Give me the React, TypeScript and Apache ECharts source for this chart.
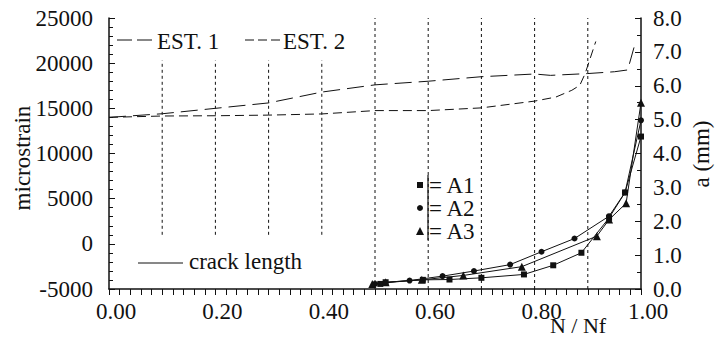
import React, { useEffect, useRef } from "react";
import * as echarts from "echarts";

const FONT = "Liberation Serif";

// Strain estimates (microstrain, left axis)
const est1X = [0, 0.1, 0.2, 0.3, 0.4, 0.5, 0.6, 0.7, 0.8, 0.83, 0.9, 0.95, 0.975, 0.99];
const est1Y = [14000, 14400, 15000, 15600, 16800, 17600, 18000, 18500, 18800, 18650, 18850, 19050, 19250, 22400];
const est2X = [0, 0.1, 0.2, 0.3, 0.4, 0.5, 0.6, 0.7, 0.8, 0.84, 0.87, 0.885, 0.895, 0.915];
const est2Y = [14000, 14150, 14180, 14250, 14380, 14750, 14750, 15050, 15800, 16250, 17000, 17550, 18850, 22400];

// Crack length (mm, right axis)
const a1X = [0.51, 0.52, 0.59, 0.64, 0.7, 0.78, 0.835, 0.888, 0.94, 0.97, 1.0];
const a1Y = [0.15, 0.2, 0.27, 0.28, 0.33, 0.43, 0.7, 1.07, 2.1, 2.85, 4.5];
const a2X = [0.5, 0.565, 0.627, 0.686, 0.754, 0.813, 0.875, 0.94, 0.97, 1.0];
const a2Y = [0.15, 0.25, 0.38, 0.53, 0.72, 1.1, 1.49, 2.15, 2.85, 4.98];
const a3X = [0.495, 0.52, 0.588, 0.666, 0.776, 0.917, 0.94, 0.972, 1.0];
const a3Y = [0.15, 0.2, 0.27, 0.4, 0.66, 1.56, 2.05, 2.53, 5.5];

// Vertical dotted reference lines
const gaugeX = [0.1, 0.2, 0.3, 0.4];
const gaugeRange = [1000, 20300];
const stageX = [0.5, 0.6, 0.7, 0.8, 0.9];
const stageRange = [-5000, 25000];

const xTicks = { min: 0, max: 1, interval: 0.2 };
const leftTicks = { min: -5000, max: 25000, interval: 5000 };
const rightTicks = { min: 0, max: 8, interval: 1 };

const zip = (xs: number[], ys: number[]) => xs.map((x, i) => [x, ys[i]]);

export default function App() {
  const ref = useRef<HTMLDivElement>(null);
  useEffect(() => {
    if (!ref.current) return;
    const chart = echarts.init(ref.current, null, { renderer: "svg" });
    const black = "#111";
    const txt = { fill: black, fontFamily: FONT, fontSize: 23 };
    const axisCommon = {
      axisLine: { show: true, onZero: false, lineStyle: { color: black, width: 1.5 } },
      splitLine: { show: false },
      axisLabel: { color: black, fontFamily: FONT, fontSize: 23 },
    };
    const dotted = (xs: number[], range: number[], name: string) =>
      xs.map((x, i) => ({
        name: name + i,
        type: "line",
        yAxisIndex: 0,
        data: [
          [x, range[0]],
          [x, range[1]],
        ],
        symbol: "none",
        silent: true,
        lineStyle: { color: black, width: 1, type: [3, 3] },
      }));
    const crack = (xs: number[], ys: number[], name: string, symbol: string, size: number) => ({
      name,
      type: "line",
      yAxisIndex: 1,
      data: zip(xs, ys),
      symbol,
      symbolSize: size,
      showSymbol: true,
      itemStyle: { color: black },
      lineStyle: { color: black, width: 1 },
    });
    const legendText = (x: number, y: number, text: string) => ({
      type: "text",
      x,
      y,
      style: { ...txt, text, verticalAlign: "middle", align: "left" },
    });
    chart.setOption({
      animation: false,
      backgroundColor: "#fff",
      grid: { left: 109, right: 77, top: 18, bottom: 49 },
      xAxis: {
        type: "value",
        ...xTicks,
        ...axisCommon,
        axisTick: { show: true, inside: false, length: 6, lineStyle: { color: black } },
        minorTick: { show: true, splitNumber: 10, length: 6, lineStyle: { color: black } },
        axisLabel: {
          ...axisCommon.axisLabel,
          margin: 11,
          padding: [0, 0, 0, 14],
          formatter: (v: number) => v.toFixed(2),
        },
      },
      yAxis: [
        {
          type: "value",
          position: "left",
          ...leftTicks,
          ...axisCommon,
          axisTick: { show: true, inside: true, length: 6, lineStyle: { color: black } },
          minorTick: { show: true, splitNumber: 5, length: 4, lineStyle: { color: black } },
          axisLabel: { ...axisCommon.axisLabel, margin: 16, formatter: (v: number) => String(v) },
        },
        {
          type: "value",
          position: "right",
          ...rightTicks,
          ...axisCommon,
          axisTick: { show: true, inside: true, length: 6, lineStyle: { color: black } },
          minorTick: { show: true, splitNumber: 2, length: 4, lineStyle: { color: black } },
          axisLabel: { ...axisCommon.axisLabel, margin: 12, formatter: (v: number) => v.toFixed(1) },
        },
      ],
      series: [
        ...dotted(gaugeX, gaugeRange, "gauge"),
        ...dotted(stageX, stageRange, "stage"),
        {
          name: "EST. 1",
          type: "line",
          yAxisIndex: 0,
          data: zip(est1X, est1Y),
          symbol: "none",
          lineStyle: { color: black, width: 1, type: [17, 7] },
        },
        {
          name: "EST. 2",
          type: "line",
          yAxisIndex: 0,
          data: zip(est2X, est2Y),
          symbol: "none",
          lineStyle: { color: black, width: 1, type: [9, 5] },
        },
        crack(a1X, a1Y, "A1", "rect", 6),
        crack(a2X, a2Y, "A2", "circle", 6),
        crack(a3X, a3Y, "A3", "triangle", 8),
      ],
      graphic: [
        {
          type: "text",
          x: 22,
          y: 158,
          rotation: Math.PI / 2,
          style: { ...txt, text: "microstrain", align: "center", verticalAlign: "middle" },
        },
        {
          type: "text",
          x: 701,
          y: 154,
          rotation: Math.PI / 2,
          style: { ...txt, text: "a (mm)", align: "center", verticalAlign: "middle" },
        },
        {
          type: "text",
          x: 578,
          y: 325,
          style: { ...txt, fontSize: 22, text: "N / Nf", align: "center", verticalAlign: "middle" },
        },
        {
          type: "line",
          shape: { x1: 117, y1: 40, x2: 152, y2: 40 },
          style: { stroke: black, lineWidth: 1, lineDash: [15, 5] },
        },
        legendText(157, 41, "EST. 1"),
        {
          type: "line",
          shape: { x1: 245, y1: 40, x2: 282, y2: 40 },
          style: { stroke: black, lineWidth: 1, lineDash: [9, 4] },
        },
        legendText(283, 41, "EST. 2"),
        {
          type: "line",
          shape: { x1: 138, y1: 263, x2: 183, y2: 263 },
          style: { stroke: black, lineWidth: 1 },
        },
        legendText(189, 261, "crack length"),
        { type: "rect", shape: { x: 417, y: 182, width: 6, height: 6 }, style: { fill: black } },
        { type: "circle", shape: { cx: 420, cy: 208, r: 3 }, style: { fill: black } },
        {
          type: "polygon",
          shape: { points: [[420, 227], [424, 235], [416, 235]] },
          style: { fill: black },
        },
        {
          type: "line",
          shape: { x1: 428, y1: 175, x2: 428, y2: 240 },
          style: { stroke: black, lineWidth: 1.2 },
        },
        legendText(429, 185, "= A1"),
        legendText(429, 208, "= A2"),
        legendText(429, 231, "= A3"),
      ],
    });
    return () => chart.dispose();
  }, []);
  return (
    <div
      ref={ref}
      style={{ position: "fixed", left: 0, top: 0, width: 718, height: 338, background: "#fff" }}
    />
  );
}
